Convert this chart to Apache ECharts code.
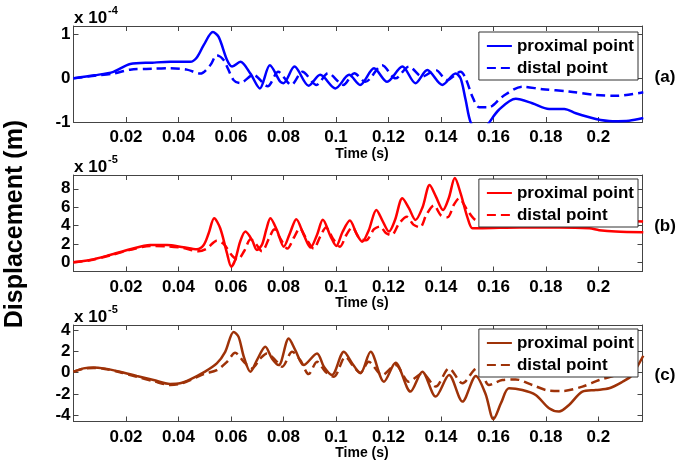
<!DOCTYPE html>
<html>
<head>
<meta charset="utf-8">
<script src="https://cdn.jsdelivr.net/npm/echarts@6/dist/echarts.min.js"></script>
<style>
  html, body { margin: 0; padding: 0; background: #fff; }
  #main { width: 678px; height: 463px; }
</style>
</head>
<body>
<div id="main"></div>
<script>
// three stacked displacement plots, (a) x1e-4, (b)(c) x1e-5
var timeTicks = [0.02, 0.04, 0.06, 0.08, 0.1, 0.12, 0.14, 0.16, 0.18, 0.2];
var yTicksA = [-1, 0, 1];
var yTicksB = [0, 2, 4, 6, 8];
var yTicksC = [-4, -2, 0, 2, 4];

// (a) blue, x 10^-4 m
var proxA = [[0,0],[0.008,0.07],[0.0152,0.15],[0.0216,0.33],[0.030,0.36],[0.0369,0.38],[0.0445,0.38],[0.047,0.48],
  [0.0496,0.76],[0.0531,1.06],[0.0553,0.95],[0.0585,0.42],[0.0604,0.27],[0.0636,0.38],[0.0674,0.11],[0.071,-0.23],
  [0.0748,0.30],[0.0788,-0.08],[0.080,-0.11],[0.0842,0.27],[0.0896,-0.17],[0.094,0.08],[0.0998,-0.23],[0.105,0.08],
  [0.1092,-0.15],[0.1145,0.23],[0.1195,-0.08],[0.1253,0.27],[0.1303,-0.11],[0.1348,0.19],[0.1405,-0.15],[0.1456,0.11],
  [0.1475,0],[0.1494,-0.49],[0.1514,-1.02],[0.155,-1.3],[0.1583,-1.02],[0.1621,-0.72],[0.1685,-0.47],[0.1748,-0.57],
  [0.1812,-0.70],[0.187,-0.70],[0.1914,-0.80],[0.199,-0.93],[0.2054,-0.98],[0.2117,-0.97],[0.2171,-0.91]];
var distA = [[0,0],[0.008,0.06],[0.0152,0.11],[0.0216,0.2],[0.030,0.22],[0.0369,0.23],[0.0432,0.2],[0.0483,0.11],
  [0.0521,0.30],[0.0546,0.53],[0.0572,0.42],[0.061,-0.04],[0.0635,-0.11],[0.0685,0.08],[0.074,-0.18],[0.078,0.15],
  [0.083,-0.15],[0.0872,0.15],[0.0926,-0.15],[0.097,0.12],[0.1028,-0.15],[0.107,0.12],[0.1112,-0.08],[0.1176,0.30],
  [0.1227,0],[0.1278,0.27],[0.1329,0.04],[0.138,0.19],[0.1424,-0.04],[0.1475,0.15],[0.1494,0],[0.152,-0.42],
  [0.1545,-0.66],[0.1583,-0.66],[0.1634,-0.42],[0.171,-0.19],[0.1787,-0.25],[0.1888,-0.30],[0.199,-0.38],
  [0.2066,-0.40],[0.2171,-0.32]];

// (b) red, x 10^-5 m
var proxB = [[0,0],[0.0063,0.25],[0.0139,0.8],[0.0216,1.42],[0.0292,1.89],[0.0356,1.89],[0.0419,1.64],[0.047,1.42],
  [0.0496,1.89],[0.0515,3.16],[0.0536,4.8],[0.0559,3.7],[0.0585,0.98],[0.0601,-0.47],[0.0616,0.25],[0.0635,2.25],
  [0.0655,3.35],[0.068,2.44],[0.0699,1.35],[0.0718,1.9],[0.0735,3.6],[0.075,4.8],[0.0775,3.5],[0.0801,1.7],
  [0.0825,3.2],[0.0849,4.69],[0.0877,3.0],[0.0903,1.6],[0.0928,3.0],[0.095,4.62],[0.098,2.8],[0.1001,1.78],
  [0.1025,3.3],[0.1053,4.55],[0.108,3.0],[0.110,2.25],[0.1125,3.5],[0.1154,5.7],[0.1176,4.6],[0.1202,3.35],
  [0.1225,4.6],[0.1253,6.98],[0.1278,5.9],[0.1303,4.6],[0.133,6.0],[0.1357,8.4],[0.138,7.2],[0.1408,5.7],
  [0.143,7.0],[0.1453,9.16],[0.1475,7.5],[0.150,4.98],[0.152,3.7],[0.1545,3.7],[0.17,3.8],[0.185,3.8],
  [0.1965,3.7],[0.2003,3.5],[0.2066,3.35],[0.2171,3.27]];
var distB = [[0,0],[0.0063,0.22],[0.0139,0.75],[0.0216,1.35],[0.0292,1.78],[0.0356,1.75],[0.0419,1.55],[0.0476,1.2],
  [0.0508,1.5],[0.0546,2.35],[0.0572,2.0],[0.0605,0.7],[0.0625,0.3],[0.065,1.2],[0.0675,2.5],[0.0695,2.0],
  [0.0718,1.2],[0.0745,2.6],[0.0765,3.6],[0.079,2.5],[0.0815,1.5],[0.084,2.7],[0.0862,3.7],[0.0888,2.5],
  [0.0915,1.5],[0.094,2.8],[0.0962,3.8],[0.0988,2.6],[0.1015,1.7],[0.104,3.0],[0.1062,3.8],[0.109,2.6],
  [0.1115,2.4],[0.1145,3.6],[0.1168,3.9],[0.119,3.2],[0.1212,2.95],[0.124,4.2],[0.127,4.95],[0.1295,4.1],
  [0.132,3.8],[0.1345,5.2],[0.1373,6.2],[0.14,5.1],[0.1425,4.9],[0.145,6.3],[0.1469,6.95],[0.150,5.7],
  [0.1532,4.6],[0.158,4.4],[0.17,4.5],[0.185,4.5],[0.2003,4.6],[0.21,4.5],[0.2171,4.44]];

// (c) brown, x 10^-5 m
var proxC = [[0,0.09],[0.0038,0.41],[0.0076,0.5],[0.0114,0.41],[0.0177,0.09],[0.0241,-0.31],[0.0305,-0.69],
  [0.0368,-1.06],[0.0406,-1.0],[0.0445,-0.63],[0.0496,0.03],[0.0546,0.88],[0.0578,1.97],[0.061,3.85],[0.0629,3.38],
  [0.0649,1.5],[0.0674,0.09],[0.0699,1.19],[0.0731,2.44],[0.0756,1.35],[0.0782,0.72],[0.082,3.22],[0.0845,2.13],
  [0.0877,0.72],[0.0928,1.82],[0.0954,0.56],[0.0985,-0.22],[0.103,1.97],[0.1062,0.88],[0.1093,-0.06],[0.1132,1.97],
  [0.1183,-0.85],[0.1227,0.94],[0.1284,-1.78],[0.1329,0.09],[0.138,-2.25],[0.1431,-0.22],[0.1482,-2.72],
  [0.1533,-0.3],[0.157,-2.0],[0.160,-4.38],[0.163,-2.8],[0.1659,-1.47],[0.171,-1.63],[0.1761,-2.1],[0.1812,-3.35],
  [0.185,-3.66],[0.1888,-3.04],[0.1939,-1.78],[0.199,-1.63],[0.2041,-1.47],[0.2092,-0.85],[0.2125,-0.3],[0.2171,1.6]];
var distC = [[0,0.09],[0.0038,0.38],[0.0076,0.45],[0.0114,0.38],[0.0177,0.05],[0.0241,-0.38],[0.0305,-0.8],
  [0.0368,-1.15],[0.0406,-1.05],[0.0445,-0.7],[0.0496,-0.13],[0.0546,0.25],[0.0585,1.03],[0.0616,1.88],[0.0649,1.03],
  [0.068,0.41],[0.0712,1.35],[0.0737,1.82],[0.0769,1.19],[0.0795,0.56],[0.0833,1.97],[0.0864,1.19],[0.0896,-0.13],
  [0.0928,1.03],[0.096,0.09],[0.0992,-0.38],[0.1036,1.5],[0.1068,0.56],[0.1093,0.0],[0.1125,1.03],[0.1176,-0.22],
  [0.1227,0.72],[0.1278,-0.85],[0.1329,-0.06],[0.138,-1.31],[0.1431,0.41],[0.1482,-1.0],[0.1526,0.25],[0.1545,0.5],
  [0.1583,-1.16],[0.1634,-0.69],[0.1685,-0.63],[0.1748,-1.16],[0.1812,-1.69],[0.1863,-1.72],[0.1939,-1.31],
  [0.2003,-0.69],[0.2066,-0.22],[0.2171,1.0]];

var FONT = "'Liberation Sans', Arial, sans-serif";
var AXIS_COLOR = '#444';
var blue = '#0000ff', red = '#ff0000', brown = '#9e3208';

var grids = [
  { left: 73.5, right: 35.5, top: 26, height: 96 },
  { left: 73.5, right: 35.5, top: 175, height: 96.5 },
  { left: 73.5, right: 35.5, top: 325, height: 96.5 }
];
var yRanges = [[-1, 1.2, yTicksA], [-1, 9.5, yTicksB], [-4.6, 4.5, yTicksC]];

var xAxes = [], yAxes = [];
grids.forEach(function (g, i) {
  // bottom axis with labels, top axis only ticks (box look)
  xAxes.push({
    type: 'value', gridIndex: i, min: 0, max: 0.2168, position: 'bottom',
    name: 'Time (s)', nameLocation: 'middle', nameGap: 25,
    nameTextStyle: { fontSize: 14, fontWeight: 'bold', color: '#000', fontFamily: FONT, padding: [0, 0, 0, 8] },
    axisLine: { onZero: false, lineStyle: { color: AXIS_COLOR, width: 1 } },
    axisTick: { inside: true, length: 5, customValues: timeTicks, lineStyle: { color: AXIS_COLOR } },
    axisLabel: {
      customValues: timeTicks, margin: 7, fontSize: 17, fontWeight: 'bold', color: '#000', fontFamily: FONT,
      formatter: function (v) { return String(parseFloat(v.toFixed(3))); }
    },
    splitLine: { show: false }
  });
  xAxes.push({
    type: 'value', gridIndex: i, min: 0, max: 0.2168, position: 'top',
    axisLine: { onZero: false, lineStyle: { color: AXIS_COLOR, width: 1 } },
    axisTick: { inside: true, length: 5, customValues: timeTicks, lineStyle: { color: AXIS_COLOR } },
    axisLabel: { show: false }, splitLine: { show: false }
  });
  var r = yRanges[i];
  yAxes.push({
    type: 'value', gridIndex: i, min: r[0], max: r[1], position: 'left',
    axisLine: { show: true, onZero: false, lineStyle: { color: AXIS_COLOR, width: 1 } },
    axisTick: { show: true, inside: true, length: 5, customValues: r[2], lineStyle: { color: AXIS_COLOR } },
    axisLabel: {
      customValues: r[2], margin: 3, fontSize: 17, fontWeight: 'bold', color: '#000', fontFamily: FONT,
      padding: [4, 0, 0, 0]
    },
    splitLine: { show: false }
  });
  yAxes.push({
    type: 'value', gridIndex: i, min: r[0], max: r[1], position: 'right',
    axisLine: { show: true, onZero: false, lineStyle: { color: AXIS_COLOR, width: 1 } },
    axisTick: { show: true, inside: true, length: 5, customValues: r[2], lineStyle: { color: AXIS_COLOR } },
    axisLabel: { show: false }, splitLine: { show: false }
  });
});

function mkSeries(name, data, idx, color, dashed) {
  return {
    name: name, type: 'line', data: data, xAxisIndex: idx * 2, yAxisIndex: idx * 2,
    symbol: 'none', smooth: 0.3, clip: true,
    lineStyle: { color: color, width: 2.5, type: dashed ? [9, 5] : 'solid' },
    itemStyle: { color: color }
  };
}

function mkLegend(top, names) {
  return {
    top: top, right: 40, orient: 'vertical', data: names,
    backgroundColor: '#fff', borderColor: '#333', borderWidth: 1, borderRadius: 0,
    padding: [5, 4, 3, 7], itemWidth: 25, itemHeight: 14, itemGap: 4,
    selectedMode: false,
    itemStyle: { opacity: 0 },   // hide the circle, keep only the line sample
    textStyle: { fontSize: 17, fontWeight: 'bold', color: '#000', fontFamily: FONT, lineHeight: 18 },
    formatter: function (n) { return n.indexOf('prox') >= 0 ? 'proximal point' : 'distal point'; }
  };
}

function expLabel(top, exp) {
  return [
    { type: 'text', x: 74, y: top - 8, style: { text: 'x 10', font: 'bold 17px ' + FONT, fill: '#000', textVerticalAlign: 'middle' } },
    { type: 'text', x: 108, y: top - 15, style: { text: exp, font: 'bold 11px ' + FONT, fill: '#000', textVerticalAlign: 'middle' } }
  ];
}

function panelTag(y, t) {
  return { type: 'text', x: 665, y: y, style: { text: t, font: 'bold 17px ' + FONT, fill: '#000', textAlign: 'center', textVerticalAlign: 'middle' } };
}

var chart = echarts.init(document.getElementById('main'), null, { renderer: 'canvas' });
chart.setOption({
  backgroundColor: '#fff',
  animation: false,
  grid: grids,
  xAxis: xAxes,
  yAxis: yAxes,
  legend: [
    mkLegend(32, ['a proximal', 'a distal']),
    mkLegend(179, ['b proximal', 'b distal']),
    mkLegend(329, ['c proximal', 'c distal'])
  ],
  graphic: [].concat(
    expLabel(26, '-4'), expLabel(175, '-5'), expLabel(325, '-5'),
    [panelTag(77, '(a)'), panelTag(226, '(b)'), panelTag(375, '(c)'),
     { type: 'text', x: 15, y: 224, rotation: Math.PI / 2,
       style: { text: 'Displacement (m)', font: 'bold 25px ' + FONT, fill: '#000', textAlign: 'center', textVerticalAlign: 'middle' } }]
  ),
  series: [
    mkSeries('a proximal', proxA, 0, blue, false),
    mkSeries('a distal', distA, 0, blue, true),
    mkSeries('b proximal', proxB, 1, red, false),
    mkSeries('b distal', distB, 1, red, true),
    mkSeries('c proximal', proxC, 2, brown, false),
    mkSeries('c distal', distC, 2, brown, true)
  ]
});
</script>
</body>
</html>
